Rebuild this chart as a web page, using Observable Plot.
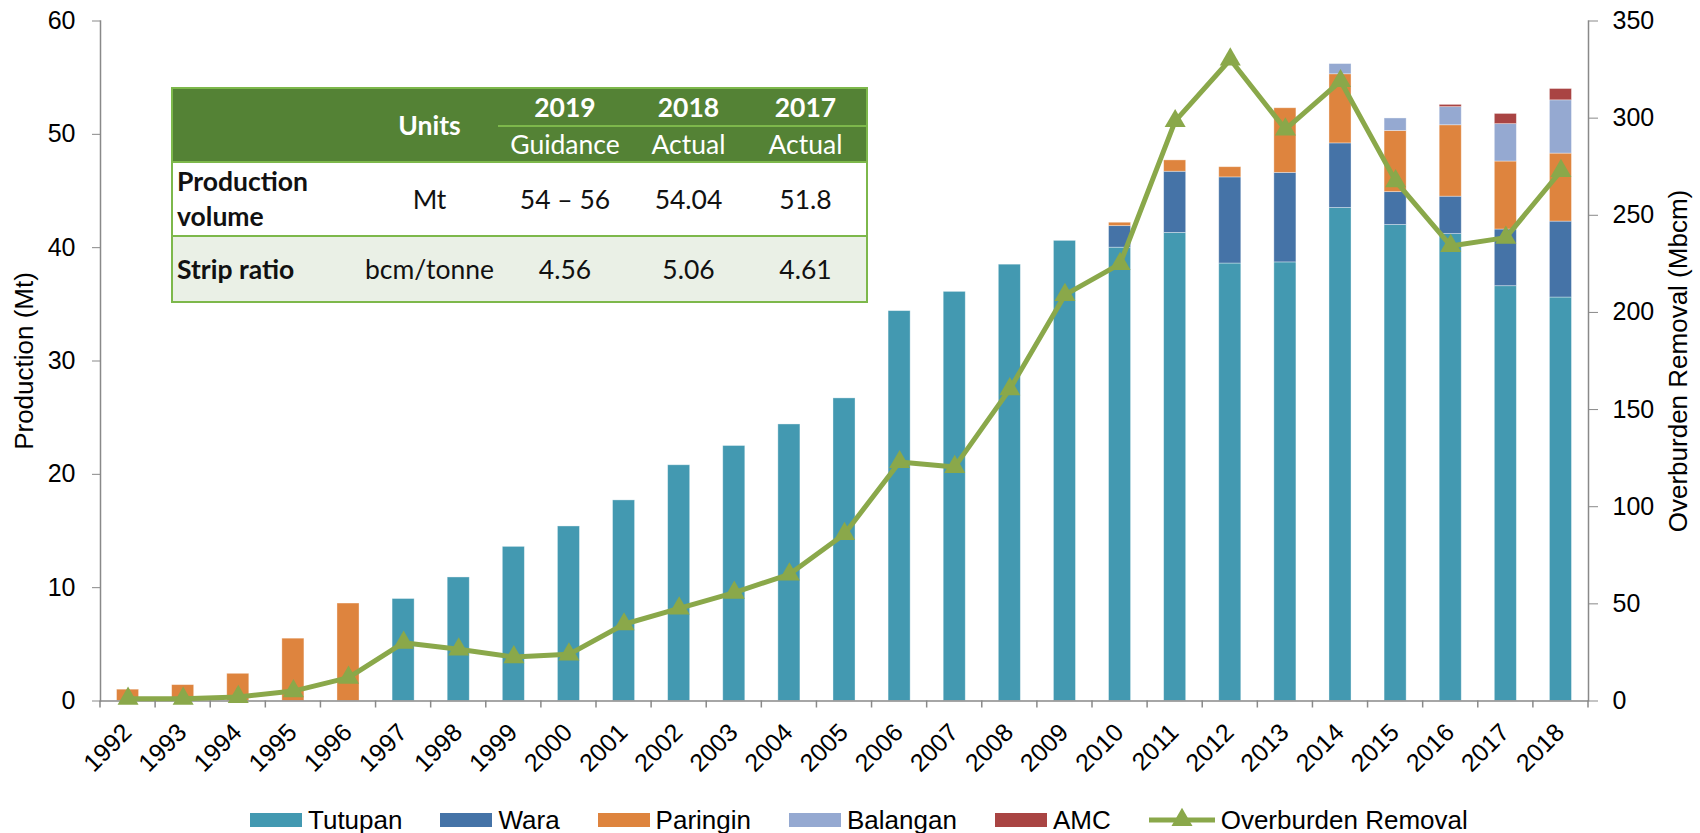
<!DOCTYPE html>
<html><head><meta charset="utf-8">
<script src="https://cdn.jsdelivr.net/npm/d3@7"></script>
<script src="https://cdn.jsdelivr.net/npm/@observablehq/plot@0.6"></script>
<style>
body{margin:0;background:#fff}
#wrap{position:relative;width:1700px;height:833px;overflow:hidden;font-family:"Liberation Sans",Arial,sans-serif;background:#fff}
#tbl{position:absolute;left:171px;top:87px;border-collapse:collapse;font-family:Lato,"Open Sans",sans-serif;font-size:26.5px;border:2.5px solid #7DB84B;table-layout:fixed}
#tbl td{padding:0;text-align:center;vertical-align:middle;color:#111}
#tbl tr.h td{background:#548235;color:#fff}
#tbl tr.r1 td{background:#fff;border-top:2.5px solid #7DB84B;line-height:35px}
#tbl tr.r2 td{background:#EAF0E6;border-top:2.5px solid #7DB84B}
#tbl td.lab{text-align:left;padding-left:4px;font-weight:bold}
#tbl td.yr{font-weight:bold;border-bottom:2.5px solid #7DB84B}
#legend{position:absolute;left:250px;top:806px;height:28px;display:flex;align-items:center;font-size:26px;color:#000;white-space:nowrap}
#legend .it{display:flex;align-items:center;margin-right:38px}
#legend .sw{width:52px;height:14px;margin-right:6px}
</style></head><body><div id="wrap"></div>
<script>
// ---- data ----
const years = [1992,1993,1994,1995,1996,1997,1998,1999,2000,2001,2002,2003,2004,2005,2006,2007,2008,2009,2010,2011,2012,2013,2014,2015,2016,2017,2018];
const seriesNames = ["Tutupan","Wara","Paringin","Balangan","AMC"];
const seriesColors = ["#4399B1","#4573A7","#DE843E","#95A9D1","#A94443"];
const tutupan  = [0,0,0,0,0, 9.0,10.9,13.6,15.4,17.7,20.8,22.5,24.4,26.7,34.4,36.1,38.5,40.6, 40.0,41.3,38.6,38.7,43.5,42.0,41.2,36.6,35.6];
const wara     = [0,0,0,0,0, 0,0,0,0,0,0,0,0,0,0,0,0,0, 1.9,5.4,7.6,7.9,5.7,2.9,3.3,5.0,6.7];
const paringin = [1.0,1.4,2.4,5.5,8.6, 0,0,0,0,0,0,0,0,0,0,0,0,0, 0.3,1.0,0.9,5.7,6.1,5.4,6.3,6.0,6.0];
const balangan = [0,0,0,0,0, 0,0,0,0,0,0,0,0,0,0,0,0,0, 0,0,0,0,0.9,1.1,1.6,3.3,4.7];
const amc      = [0,0,0,0,0, 0,0,0,0,0,0,0,0,0,0,0,0,0, 0,0,0,0,0,0,0.2,0.9,1.0];
const overburden = [1.2,1.2,2.1,5.1,12.0,30.0,26.6,22.6,24.0,39.5,47.7,55.8,65.2,86.0,123.0,120.5,160.5,209.0,225.0,298.5,330.2,294.2,319.1,267.6,234.2,238.5,272.8];
const leftTicks = [0,10,20,30,40,50,60];
const rightTicks = [0,50,100,150,200,250,300,350];
const lineName = "Overburden Removal";
const lineColor = "#8AA84A";
const leftTitle = "Production (Mt)";
const rightTitle = "Overburden Removal (Mbcm)";
// table
const tblYears = ["2019","2018","2017"];
const tblSub = ["Guidance","Actual","Actual"];
const tblUnitsHead = "Units";
const tblRowLabels = ["Production<br>volume","Strip ratio"];
const tblRowUnits = ["Mt","bcm/tonne"];
const tblProd = ["54 – 56","54.04","51.8"];
const tblStrip = ["4.56","5.06","4.61"];

// ---- build ----
const seriesVals = [tutupan, wara, paringin, balangan, amc];
const stackData = [];
seriesNames.forEach((s, k) => years.forEach((y, i) => { if (seriesVals[k][i] > 0) stackData.push({year: y, series: s, value: seriesVals[k][i]}); }));
const lineData = years.map((y, i) => ({year: y, ob: overburden[i]}));
const LMAX = 60, RMAX = 350;
const toLeft = v => v * LMAX / RMAX;

const plot = Plot.plot({
  width: 1700, height: 800,
  marginTop: 20.5, marginBottom: 99.5, marginLeft: 100, marginRight: 112,
  style: {fontFamily: '"Liberation Sans", Arial, sans-serif', fontSize: "25px", background: "white", color: "black"},
  x: {type: "band", domain: years, paddingInner: 0.6, paddingOuter: 0.3, round: false, axis: null},
  y: {domain: [0, LMAX], axis: null},
  color: {domain: seriesNames, range: seriesColors},
  marks: [
    Plot.barY(stackData, {x: "year", y: "value", fill: "series", stroke: "white", strokeOpacity: 0.45, strokeWidth: 0.8}),
    Plot.ruleY([0], {stroke: "#898989", strokeWidth: 1.5}),
    Plot.frame({anchor: "left", stroke: "#898989", strokeWidth: 1.5}),
    Plot.frame({anchor: "right", stroke: "#898989", strokeWidth: 1.5}),
    Plot.axisY(leftTicks, {anchor: "left", tickSize: 8, tickPadding: 17, stroke: "#898989", fill: "black", fontSize: 25, label: null}),
    Plot.axisY(rightTicks.map(toLeft), {anchor: "right", tickSize: 9, tickPadding: 15, stroke: "#898989", fill: "black", fontSize: 25, label: null, tickFormat: d => String(Math.round(d * RMAX / LMAX))}),
    Plot.text(years, {x: d => d, y: 0, text: d => String(d), dx: 5, dy: 33, rotate: -45, textAnchor: "end", lineAnchor: "bottom", fontSize: 25, fill: "black"}),
    Plot.line(lineData, {x: "year", y: d => toLeft(d.ob), stroke: lineColor, strokeWidth: 5, strokeLinejoin: "miter"}),
    Plot.dot(lineData, {x: "year", y: d => toLeft(d.ob), symbol: "triangle", r: 7.8, fill: lineColor, stroke: "none"}),
    Plot.text([leftTitle], {frameAnchor: "left", textAnchor: "middle", rotate: -90, dx: -76, fontSize: 26, fill: "black"}),
    Plot.text([rightTitle], {frameAnchor: "right", textAnchor: "middle", rotate: -90, dx: 90, fontSize: 26, fill: "black"})
  ]
});

// x-axis boundary ticks (category-axis style) from the library's x scale
const xs = plot.scale("x");
const bounds = years.map(y => xs.apply(y) + xs.bandwidth / 2 - xs.step / 2);
bounds.push(xs.apply(years[years.length - 1]) + xs.bandwidth / 2 + xs.step / 2);
const ys = plot.scale("y");
const y0 = ys.apply(0);
const g = d3.select(plot).append("g").attr("stroke", "#898989").attr("stroke-width", 1.5);
bounds.forEach(b => g.append("line").attr("x1", b).attr("x2", b).attr("y1", y0).attr("y2", y0 + 7));

const wrap = document.getElementById("wrap");
wrap.appendChild(plot);

// table
const tbl = document.createElement("table");
tbl.id = "tbl";
const widths = [189, 137, 134, 113, 122];
let html = "<colgroup>" + widths.map(w => `<col style="width:${w}px">`).join("") + "</colgroup>";
html += `<tr class="h" style="height:38px"><td rowspan="2"></td><td rowspan="2" style="font-weight:bold">${tblUnitsHead}</td>` + tblYears.map(y => `<td class="yr">${y}</td>`).join("") + "</tr>";
html += `<tr class="h" style="height:36px">` + tblSub.map(s => `<td>${s}</td>`).join("") + "</tr>";
html += `<tr class="r1" style="height:74px"><td class="lab">${tblRowLabels[0]}</td><td>${tblRowUnits[0]}</td>` + tblProd.map(v => `<td>${v}</td>`).join("") + "</tr>";
html += `<tr class="r2" style="height:66px"><td class="lab">${tblRowLabels[1]}</td><td>${tblRowUnits[1]}</td>` + tblStrip.map(v => `<td>${v}</td>`).join("") + "</tr>";
tbl.innerHTML = html;
tbl.style.width = d3.sum(widths) + "px";
wrap.appendChild(tbl);

// legend
const leg = document.createElement("div");
leg.id = "legend";
seriesNames.forEach((s, k) => {
  const it = document.createElement("div"); it.className = "it";
  it.innerHTML = `<div class="sw" style="background:${seriesColors[k]}"></div><span>${s}</span>`;
  leg.appendChild(it);
});
const itl = document.createElement("div"); itl.className = "it"; itl.style.marginRight = "0";
const tri = d3.symbol(d3.symbolTriangle, 7.8 * 7.8 * Math.PI)();
itl.innerHTML = `<svg width="66" height="28" style="margin-right:6px"><line x1="0" x2="66" y1="14" y2="14" stroke="${lineColor}" stroke-width="5"/><path d="${tri}" transform="translate(33,14)" fill="${lineColor}"/></svg><span>${lineName}</span>`;
leg.appendChild(itl);
wrap.appendChild(leg);
</script></body></html>
